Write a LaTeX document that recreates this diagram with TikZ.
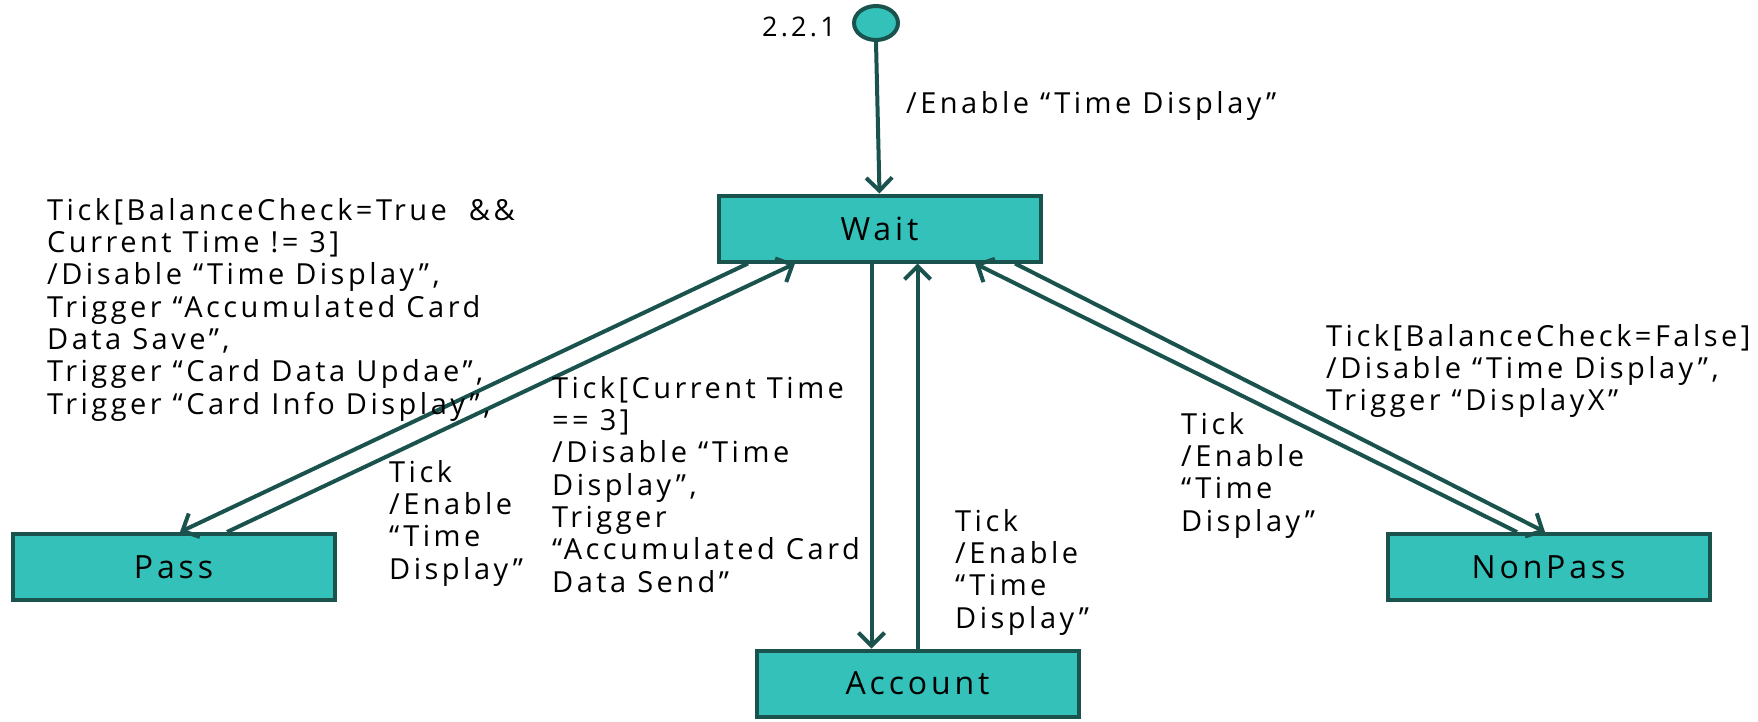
\documentclass[tikz,border=0pt]{standalone}
\usepackage{fontspec}
\setmainfont{Open Sans}
\newfontfamily\lblfont{Open Sans}[LetterSpace=12, WordSpace=1.6]
\newfontfamily\boxfont{Open Sans}[LetterSpace=12]
\usetikzlibrary{arrows.meta,shapes.geometric}
\definecolor{boxfill}{RGB}{51,193,185}
\definecolor{edgecol}{RGB}{26,82,78}
\begin{document}
\begin{tikzpicture}[x=1pt,y=-1pt,
  state/.style={draw=edgecol, fill=boxfill, line width=4pt, minimum width=322pt, minimum height=66pt, inner sep=0pt, font=\boxfont\fontsize{32}{34}\selectfont},
  conn/.style={draw=edgecol, line width=4pt, -{Straight Barb[length=13pt,width=26pt,line width=4pt]}},
  lbl/.style={anchor=north west, align=left, inner sep=0pt, font=\lblfont\fontsize{29}{32.3}\selectfont}]
\useasboundingbox (0,0) rectangle (1758,721);
\node[state] (wait) at (879.5,228.5) {Wait};
\node[state] (pass) at (173.5,567) {Pass};
\node[state] (nonpass) at (1548.5,567) {NonPass};
\node[state] (acct) at (917.5,683.5) {Account};
\node[draw=edgecol, fill=boxfill, line width=4pt, ellipse, minimum width=44pt, minimum height=34pt, inner sep=0pt] (init) at (876,23) {};
\node[anchor=east, inner sep=0pt, font=\boxfont\fontsize{27}{28}\selectfont] (lab221) at (836,27) {2.2.1};
% connectors
\draw[conn] (init.south) -- (wait.north);
\draw[conn] ([xshift=-131.5pt]wait.south) -- ([xshift=6.5pt]pass.north);
\draw[conn] ([xshift=53.5pt]pass.north) -- ([xshift=-84.5pt]wait.south);
\coordinate (d1) at ([xshift=-8pt]wait.south);
\draw[conn] (d1) -- (d1 |- acct.north);
\draw[conn] (acct.north) -- (acct.north |- wait.south);
\draw[conn] ([xshift=135.5pt]wait.south) -- ([xshift=-3.5pt]nonpass.north);
\draw[conn] ([xshift=-31.5pt]nonpass.north) -- ([xshift=95.5pt]wait.south);
% labels
\node[lbl] (l0) at (906,91) {/Enable “Time Display”};
\node[lbl] (l1) at (47,198) {Tick[BalanceCheck=True~~\&\&\\Current Time != 3]\\/Disable “Time Display”,\\Trigger “Accumulated Card\\Data Save”,\\Trigger “Card Data Updae”,\\Trigger “Card Info Display”,};
\node[lbl] (l2) at (389,460) {Tick\\/Enable\\“Time\\Display”};
\node[lbl] (l3) at (552,376) {Tick[Current Time\\== 3]\\/Disable “Time\\Display”,\\Trigger\\“Accumulated Card\\Data Send”};
\node[lbl] (l4) at (955,509) {Tick\\/Enable\\“Time\\Display”};
\node[lbl] (l5) at (1181,412) {Tick\\/Enable\\“Time\\Display”};
\node[lbl] (l6) at (1326,324) {Tick[BalanceCheck=False]\\/Disable “Time Display”,\\Trigger “DisplayX”};
\end{tikzpicture}
\end{document}
